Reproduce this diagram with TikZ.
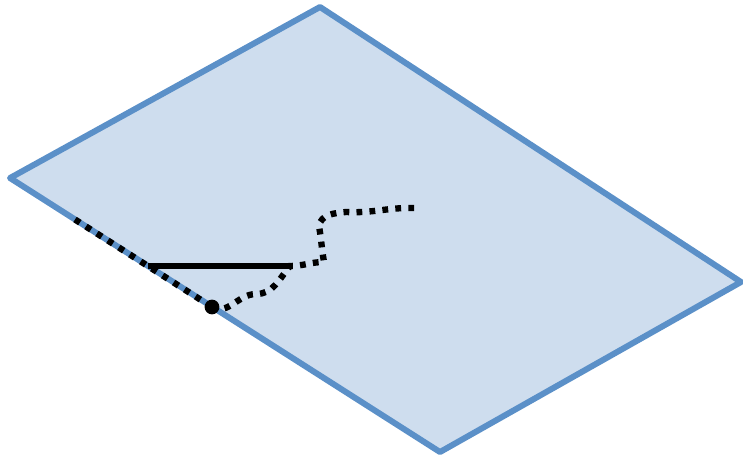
\documentclass[tikz,border=0pt]{standalone}
\usetikzlibrary{arrows.meta,positioning}
\definecolor{planefill}{HTML}{CEDDEE}
\definecolor{planeedge}{HTML}{5B90C8}

\begin{document}
\begin{tikzpicture}[x=0.02cm,y=-0.02cm,>=Stealth,
  plane/.style={draw=planeedge,fill=planefill,line width=3.4pt,line join=round},
  chord/.style={line width=3.3pt},
  dotline/.style={line width=3.6pt,dash pattern=on 3.3pt off 4.1pt}]
\useasboundingbox (0,0) rectangle (743,458);
\coordinate (top) at (320,7);
\coordinate (right) at (741,282);
\coordinate (bottom) at (440,452);
\coordinate (left) at (10,178);
\coordinate (edgestart) at (75,219.5);
\coordinate (foot) at (148,266);
\coordinate (base) at (212,307);
\coordinate (tip) at (290,266);
\coordinate (dip) at (256,294);
\coordinate (hook) at (324,262);
\coordinate (rise) at (319,226);
\coordinate (bend) at (346,212);
\coordinate (tail) at (416,208);
\draw[plane] (top) -- (right) -- (bottom) -- (left) -- cycle;
\draw[dotline] (edgestart) -- (base);
\draw[chord] (foot) -- (tip);
\draw[dotline] (base) to[out=-30,in=180] (dip) to[out=0,in=230] (tip)
  to[out=0,in=180] (hook) to[out=100,in=-80] (rise) to[out=80,in=185] (bend) to[out=-3,in=178] (tail);
\fill (base) circle (4.2pt);
\end{tikzpicture}
\end{document}
